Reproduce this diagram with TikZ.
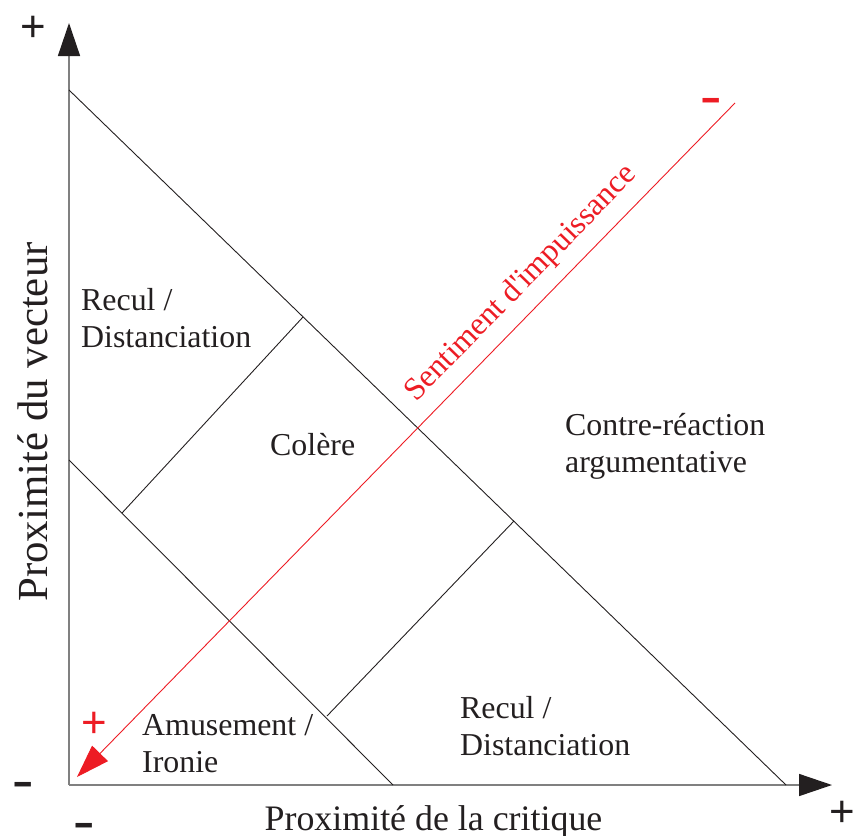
\documentclass[tikz,border=0pt]{standalone}
\usepackage{fontspec}
\setmainfont{Liberation Serif}
\newfontfamily\marksans{Liberation Sans}
\usetikzlibrary{arrows.meta}
\definecolor{inkdark}{RGB}{35,31,32}
\definecolor{redline}{RGB}{237,28,36}
\definecolor{axisgray}{RGB}{128,128,128}
\begin{document}
\begin{tikzpicture}[x=1bp,y=-1bp,
  axis/.style={draw=axisgray, line width=1.5bp, -{Triangle[length=33bp,width=22bp,color=inkdark]}},
  divider/.style={draw=inkdark, line width=0.9bp},
  redarrow/.style={draw=redline, line width=0.9bp, -{Triangle[length=33bp,width=22bp,color=redline]}},
  region/.style={font=\fontsize{32}{37}\selectfont, text=inkdark, align=left, anchor=base west, inner sep=0pt},
  axislabel/.style={text=inkdark, anchor=base, inner sep=0pt},
  plusmark/.style={font=\marksans\fontsize{44}{48}\selectfont, inner sep=0pt},
  minusmark/.style={font=\marksans\bfseries\fontsize{38}{40}\selectfont, inner sep=0pt, xscale=1.7}
]
\useasboundingbox (0,0) rectangle (854,836);
% axes
\coordinate (O) at (69,785);
\coordinate (Ytop) at (69,23);
\coordinate (Xend) at (832,785);
\draw[axis] (O) -- (Ytop);
\draw[axis] (O) -- (Xend);
% diagonals
\coordinate (bigTop) at (69,90);
\coordinate (bigEnd) at (786,785);
\coordinate (smallTop) at (69,460);
\coordinate (smallEnd) at (393,785);
\coordinate (c1a) at (303,317);
\coordinate (c1b) at (122,513);
\coordinate (c2a) at (514,521);
\coordinate (c2b) at (327,716);
\draw[divider] (bigTop) -- (bigEnd);
\draw[divider] (smallTop) -- (smallEnd);
\draw[divider] (c1a) -- (c1b);
\draw[divider] (c2a) -- (c2b);
% red arrow
\coordinate (redStart) at (735,103);
\coordinate (redTip) at (77,777);
\draw[redarrow] (redStart) -- (redTip);
\node[font=\fontsize{32}{37}\selectfont, text=redline, anchor=base, rotate=45.7, inner sep=0pt] (sentiment) at (527,289) {Sentiment d\textquotesingle impuissance};
% region labels (anchor = baseline of last line)
\node[region] (reculL) at (81,347) {Recul /\\Distanciation};
\node[region] (colere) at (270,455) {Colère};
\node[region] (contre) at (565,472) {Contre-réaction\\argumentative};
\node[region] (amuse) at (142,772) {Amusement /\\Ironie};
\node[region] (reculB) at (460,755) {Recul /\\Distanciation};
% axis labels
\node[axislabel, font=\fontsize{36}{40}\selectfont] (xlab) at (433.5,830) {Proximité de la critique};
\node[axislabel, font=\fontsize{43}{48}\selectfont, rotate=90] (ylab) at (47,422) {Proximité du vecteur};
% signs
\node[plusmark, text=inkdark] (yplus) at (33.5,29) {+};
\node[plusmark, text=inkdark] (xplus) at (842,814) {+};
\node[plusmark, text=redline] (redplus) at (94,724.5) {+};
\node[minusmark, text=inkdark] (yminus) at (23.5,788) {-};
\node[minusmark, text=inkdark] (xminus) at (84.5,829) {-};
\node[minusmark, text=redline] (redminus) at (711.5,104) {-};
\end{tikzpicture}
\end{document}
